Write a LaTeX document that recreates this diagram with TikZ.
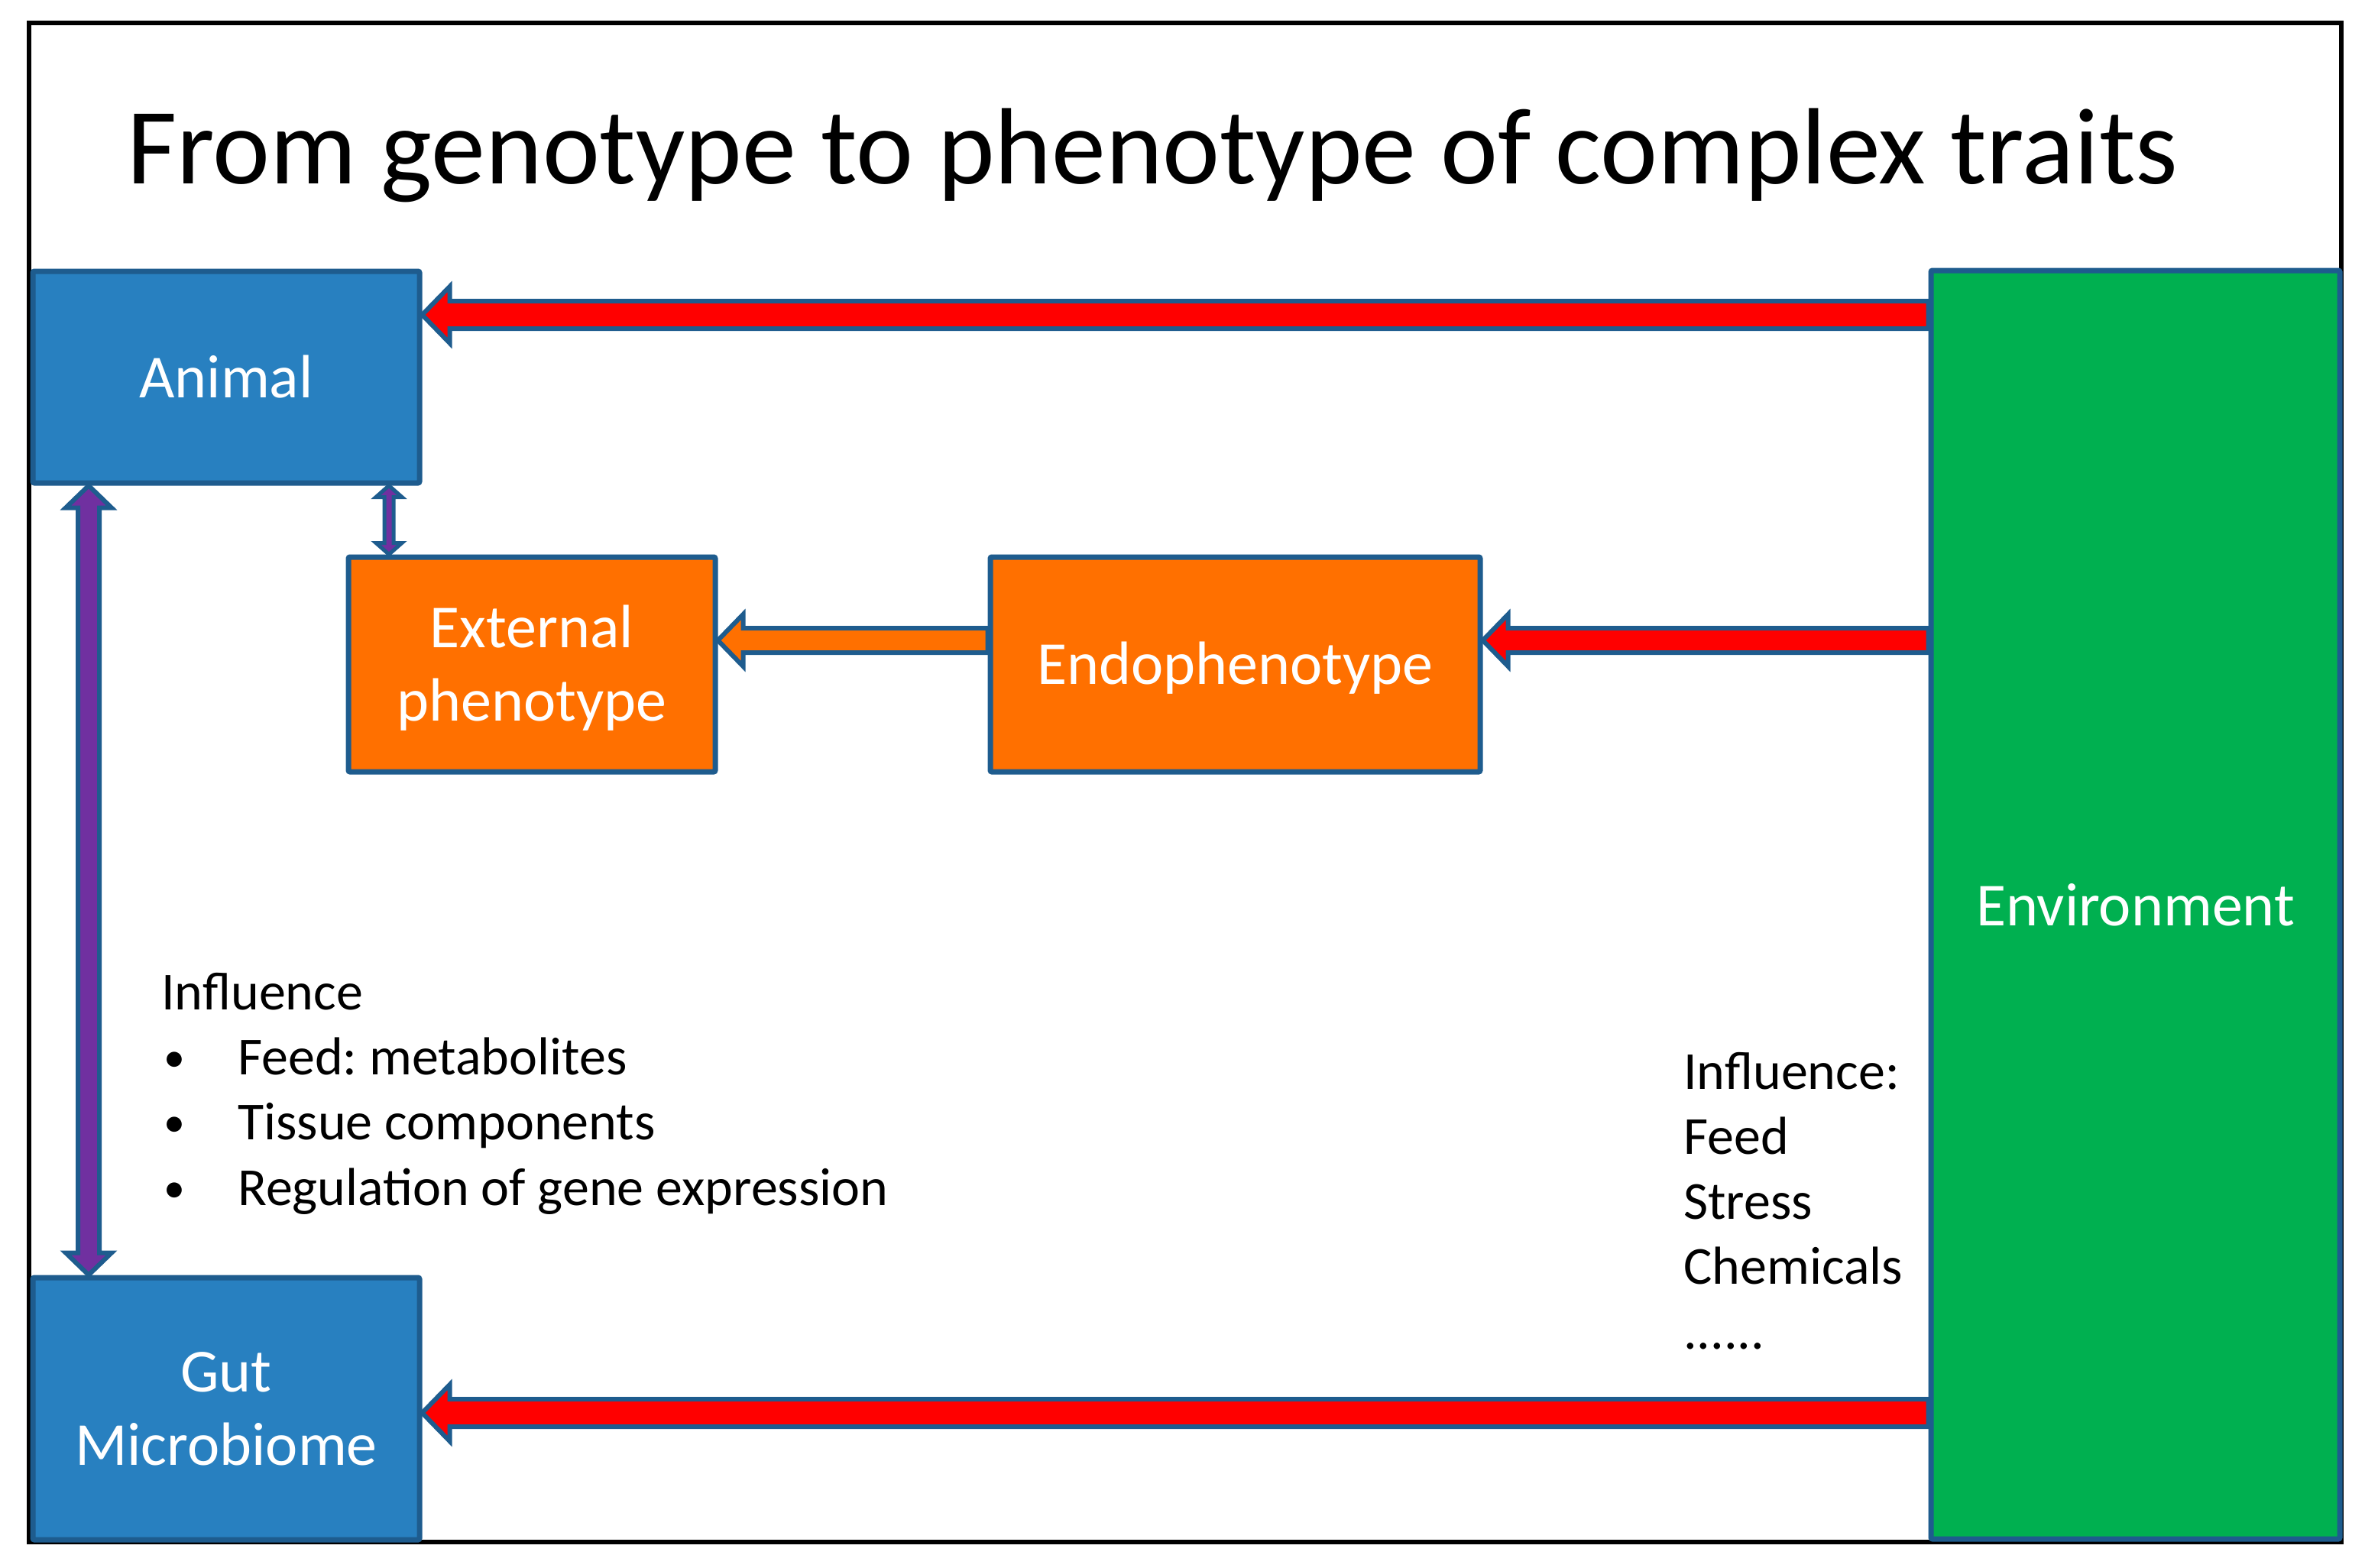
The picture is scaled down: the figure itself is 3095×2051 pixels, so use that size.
\documentclass[tikz,border=0pt]{standalone}
\usepackage{fontspec}
\setmainfont{Carlito}
\usetikzlibrary{calc}
\definecolor{boxblue}{RGB}{40,128,192}
\definecolor{edgeblue}{RGB}{30,92,142}
\definecolor{boxorange}{RGB}{255,112,0}
\definecolor{boxgreen}{RGB}{0,176,80}
\definecolor{arrred}{RGB}{255,0,0}
\definecolor{arrpurple}{RGB}{112,48,160}
\pgfdeclarelayer{bg}
\pgfdeclarelayer{paper}
\pgfsetlayers{paper,bg,main}
\frenchspacing
% left-pointing block arrow: #1 tip, #2 tail, #3 shaft half, #4 head half, #5 head length, #6 fill
\newcommand{\blockL}[6]{%
  \draw[arrowline, fill=#6] (#1) -- ($(#1)+(#5,-#4)$) -- ($(#1)+(#5,-#3)$) -- ($(#2)+(0,-#3)$)
    -- ($(#2)+(0,#3)$) -- ($(#1)+(#5,#3)$) -- ($(#1)+(#5,#4)$) -- cycle;}
% vertical double block arrow: #1 top tip, #2 bottom tip, #3 shaft half, #4 head half, #5 head length, #6 fill
\newcommand{\blockUD}[6]{%
  \draw[arrowline, fill=#6] (#1) -- ($(#1)+(#4,#5)$) -- ($(#1)+(#3,#5)$) -- ($(#2)+(#3,-#5)$)
    -- ($(#2)+(#4,-#5)$) -- (#2) -- ($(#2)+(-#4,-#5)$) -- ($(#2)+(-#3,-#5)$)
    -- ($(#1)+(-#3,#5)$) -- ($(#1)+(-#4,#5)$) -- cycle;}
\newcommand{\bul}{\makebox[97pt][l]{\fontsize{56}{60}\selectfont\raisebox{4pt}{•}}}
\tikzset{
  arrowline/.style={draw=edgeblue, line width=6pt, line join=miter},
  box/.style={draw=edgeblue, line width=7pt, rounded corners=2pt, inner sep=0pt,
    text=white, align=center, font=\fontsize{80}{96}\selectfont},
  bluebox/.style={box, fill=boxblue},
  orangebox/.style={box, fill=boxorange},
  greenbox/.style={box, fill=boxgreen},
  txt/.style={inner sep=0pt, anchor=base west, font=\fontsize{70}{85}\selectfont},
}
\begin{document}
\begin{tikzpicture}[x=1pt,y=-1pt]
\useasboundingbox (0,0) rectangle (3095,2051);
\begin{pgfonlayer}{paper}
\fill[white] (0,0) rectangle (3095,2051);
\end{pgfonlayer}
\draw[black, line width=6.5pt] (38,30) rectangle (3064,2018);

\node[anchor=base west, inner sep=0pt, font=\fontsize{142}{170}\selectfont] (title) at (166,240)
  {From genotype to phenotype of complex traits};

\node[bluebox, minimum width=506pt, minimum height=277pt] (animal) at (296,493.5) {Animal};
\node[bluebox, minimum width=506pt, minimum height=343pt] (gut) at (296,1843.5) {Gut\\Microbiome};
\node[greenbox, minimum width=535pt, minimum height=1660pt] (env) at (2794.5,1184) {Environment};
\node[orangebox, minimum width=480pt, minimum height=281pt] (ext) at (696,869.5)
  {\raisebox{-7pt}[\height][\depth]{\begin{tabular}{@{}c@{}}External\\phenotype\end{tabular}}};
\node[orangebox, minimum width=641pt, minimum height=281pt] (endo) at (1616.5,869.5)
  {\raisebox{-5pt}[\height][\depth]{Endophenotype}};

\coordinate (t1) at (animal.east |- 0,412);
\coordinate (s1) at (env.west |- 0,412);
\coordinate (t2) at (gut.east |- 0,1849);
\coordinate (s2) at (env.west |- 0,1849);
\coordinate (t3) at (endo.east |- 0,838);
\coordinate (s3) at (env.west |- 0,838);
\coordinate (t4) at (ext.east |- 0,838);
\coordinate (s4) at (endo.west |- 0,838);
\coordinate (p1) at (animal.south -| 116,0);
\coordinate (p2) at (gut.north -| 116,0);
\coordinate (q1) at (animal.south -| 509,0);
\coordinate (q2) at (ext.north -| 509,0);

\begin{pgfonlayer}{bg}
\blockL{t1}{s1}{18}{37}{36}{arrred}
\blockL{t2}{s2}{18}{37}{36}{arrred}
\blockL{t3}{s3}{16}{34}{33}{arrred}
\blockL{t4}{s4}{16}{34}{33}{boxorange}
\blockUD{p1}{p2}{14}{30}{29}{arrpurple}
\begin{scope}[arrowline/.append style={line width=5pt}]
\blockUD{q1}{q2}{6}{17}{15}{arrpurple}
\end{scope}
\end{pgfonlayer}

\node[txt] (linf) at (211,1321) {Influence};
\node[txt] (lb1) at (214,1406) {\bul Feed: metabolites};
\node[txt] (lb2) at (214,1491) {\bul Tissue components};
\node[txt] (lb3) at (214,1577) {\bul Regulation of gene expression};

\node[txt] (rinf) at (2203,1425) {Influence:};
\node[txt] (rfeed) at (2203,1510) {Feed};
\node[txt] (rstress) at (2203,1595) {Stress};
\node[txt] (rchem) at (2203,1680) {Chemicals};
\node[txt] (rdots) at (2203,1765) {......};
\end{tikzpicture}
\end{document}
